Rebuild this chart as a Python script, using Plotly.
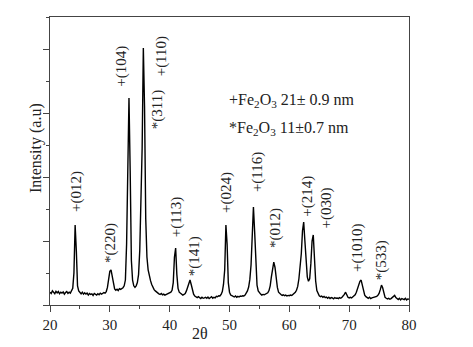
import numpy as np
import plotly.graph_objs as go

# 2theta grid, 0.2 deg step
two_theta = np.round(np.arange(20.0, 80.01, 0.2), 1)

intensity = [
    40, 36, 44, 41, 35, 43, 38, 42, 35, 40,      # 20-21.8
    37, 41, 34, 39, 42, 36, 40, 37, 43, 52,      # 22-23.8
    100, 250, 170, 60, 44, 39, 35, 40, 34, 38,   # 24-25.8
    34, 37, 31, 36, 33, 35, 30, 36, 33, 31,      # 26-27.8
    35, 32, 37, 34, 36, 39, 37, 42, 55, 82,      # 28-29.8
    105, 110, 88, 63, 50, 46, 49, 45, 51, 49,    # 30-31.8
    51, 54, 60, 78, 190, 520, 647, 420, 140, 78, # 32-33.8
    60, 55, 60, 70, 95, 170, 330, 490, 803, 620, # 34-35.8
    270, 150, 110, 90, 76, 64, 55, 48, 44, 40,   # 36-37.8
    37, 35, 33, 36, 32, 34, 31, 33, 35, 36,      # 38-39.8
    37, 40, 46, 70, 150, 178, 95, 52, 40, 36,    # 40-41.8
    34, 31, 33, 36, 44, 56, 70, 78, 64, 44,      # 42-43.8
    34, 28, 25, 23, 26, 22, 20, 24, 21, 22,      # 44-45.8
    24, 21, 25, 20, 23, 26, 21, 24, 22, 27,      # 46-47.8
    26, 29, 28, 33, 42, 65, 110, 250, 190, 70,   # 48-49.8
    40, 31, 29, 26, 25, 28, 24, 27, 25, 28,      # 50-51.8
    27, 29, 28, 31, 36, 44, 56, 80, 125, 210,    # 52-53.8
    306, 230, 110, 62, 44, 37, 34, 31, 33, 32,   # 54-55.8
    34, 35, 38, 45, 60, 88, 115, 134, 118, 82,   # 56-57.8
    55, 40, 35, 33, 30, 32, 29, 31, 28, 30,      # 58-59.8
    29, 31, 30, 33, 36, 40, 46, 58, 82, 120,     # 60-61.8
    160, 232, 259, 200, 122, 88, 74, 82, 130, 200, # 62-63.8
    219, 145, 75, 45, 34, 29, 26, 28, 24, 27,    # 64-65.8
    23, 25, 21, 24, 20, 23, 22, 19, 23, 21,      # 66-67.8
    22, 20, 23, 21, 24, 27, 33, 40, 31, 24,      # 68-69.8
    22, 24, 22, 25, 28, 32, 40, 52, 66, 74,      # 70-71.8
    78, 62, 42, 31, 26, 23, 21, 24, 20, 22,      # 72-73.8
    23, 25, 24, 27, 30, 36, 48, 62, 54, 34,      # 74-75.8
    24, 21, 19, 21, 18, 20, 23, 27, 30, 23,      # 76-77.8
    19, 17, 21, 16, 20, 18, 17, 21, 16, 19,      # 78-79.8
    18,                                          # 80
]

# peak labels: text, 2theta, intensity position
peak_labels = ['+(012)', '*(220)', '+(104)', '*(311)', '+(110)', '+(113)', '*(141)',
               '+(024)', '+(116)', '*(012)', '+(214)', '+(030)', '+(1010)', '*(533)']
label_x = [24.35, 30.2, 32.0, 37.9, 38.6, 41.1, 44.1,
           49.4, 54.8, 57.8, 63.1, 66.2, 71.3, 75.4]
label_y = [353, 194, 747, 609, 778, 275, 153,
           353, 416, 241, 341, 303, 178, 141]

legend_lines = ['+Fe<sub>2</sub>O<sub>3</sub> 21\u00b1 0.9 nm',
                '*Fe<sub>2</sub>O<sub>3</sub> 11\u00b10.7 nm']
legend_y = [640, 553]

serif = 'Liberation Serif'
axcol = '#444444'
txtcol = '#222222'

trace = go.Scatter(x=two_theta, y=intensity, mode='lines',
                   line=dict(color='black', width=1.4), showlegend=False)

annotations = []
for txt, x, y in zip(peak_labels, label_x, label_y):
    annotations.append(dict(x=x, y=y, text=txt, textangle=-90, showarrow=False,
                            xanchor='center', yanchor='middle',
                            font=dict(family=serif, size=15, color=txtcol)))
for txt, y in zip(legend_lines, legend_y):
    annotations.append(dict(x=49.6, y=y, text=txt, showarrow=False,
                            xanchor='left', yanchor='middle',
                            font=dict(family=serif, size=16, color=txtcol)))
# axis titles
annotations.append(dict(x=-0.039, y=0.545, xref='paper', yref='paper',
                        text='Intensity (a.u)', textangle=-90, showarrow=False,
                        xanchor='center', yanchor='middle',
                        font=dict(family=serif, size=16, color=txtcol)))
annotations.append(dict(x=0.418, y=-0.10, xref='paper', yref='paper',
                        text='2\u03b8', showarrow=False,
                        xanchor='center', yanchor='middle',
                        font=dict(family=serif, size=16, color=txtcol)))

# page body has an 8px margin, margins below compensate for it
layout = go.Layout(
    width=473, height=347,
    margin=dict(l=42, r=72, t=9, b=50),
    paper_bgcolor='white', plot_bgcolor='white',
    xaxis=dict(range=[20, 80], tick0=20, dtick=10, ticks='outside', ticklen=6,
               tickcolor=axcol, showline=True, linecolor=axcol, linewidth=1.2,
               mirror=True, showgrid=False, zeroline=False,
               tickfont=dict(family=serif, size=15, color=txtcol),
               minor=dict(dtick=5, ticks='outside', ticklen=3, tickcolor=axcol)),
    yaxis=dict(range=[0, 900], tick0=0, dtick=200, ticks='outside', ticklen=6,
               tickcolor=axcol, showline=True, linecolor=axcol, linewidth=1.2,
               mirror=True, showgrid=False, zeroline=False, showticklabels=False,
               minor=dict(dtick=100, ticks='outside', ticklen=3, tickcolor=axcol)),
    annotations=annotations,
)

fig = go.Figure(data=[trace], layout=layout)
fig.write_html("out.html")
